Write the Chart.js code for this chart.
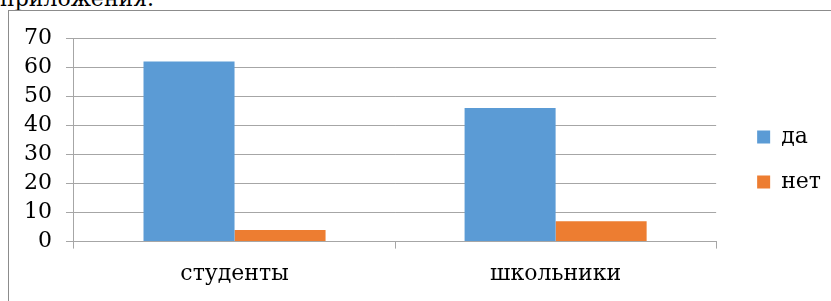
<!DOCTYPE html>
<html>
<head>
<meta charset="utf-8">
<script src="https://cdn.jsdelivr.net/npm/chart.js@4.4.0/dist/chart.umd.min.js"></script>
<style>
    body { margin: 0; background: #fff; overflow: hidden; width: 831px; height: 301px; position: relative; }
    #caption { position: absolute; left: 0px; top: -12px; font-size: 22px; font-family: "DejaVu Serif", serif; line-height: 22px; color: #000; }
    #frame { position: absolute; left: 8px; top: 10px; width: 840px; height: 320px; border: 1px solid #8c8c8c; }
    #myChart { position: absolute; left: 9px; top: 11px; }
</style>
</head>
<body>
<div id="caption">приложения.</div>
<div id="frame"></div>
<canvas id="myChart" width="822" height="290"></canvas>
<script>
    const categories = ['студенты', 'школьники'];
    const seriesNames = ['да', 'нет'];
    const yesValues = [62, 46];
    const noValues = [4, 7];
    const yTicks = [0, 10, 20, 30, 40, 50, 60, 70];

    const serif = {family: '"DejaVu Serif", serif', size: 22};
    const gridColor = '#a6a6a6';

    // nudge the legend to where it sits in the picture
    const legendShift = {
        id: 'legendShift',
        afterLayout: function (chart) {
            chart.legend.left += 18;
            chart.legend.right += 18;
            chart.legend.top -= 9;
            chart.legend.bottom -= 9;
        }
    };

    function draw() {
        const ctx = document.getElementById('myChart');
        let myChart = new Chart(ctx, {
            type: 'bar',
            data: {
                labels: categories,
                datasets: [
                    {label: seriesNames[0], data: yesValues, backgroundColor: '#5b9bd5'},
                    {label: seriesNames[1], data: noValues, backgroundColor: '#ed7d31'}
                ]
            },
            options: {
                responsive: false,
                devicePixelRatio: 1,
                animation: false,
                categoryPercentage: 0.567,
                barPercentage: 1.0,
                layout: {padding: {top: 27, left: 1, right: 18, bottom: 2}},
                scales: {
                    x: {
                        grid: {drawOnChartArea: false, color: gridColor, tickLength: 7, offset: true},
                        border: {color: gridColor},
                        ticks: {font: serif, color: '#000', padding: 12, autoSkip: false, maxRotation: 0}
                    },
                    y: {
                        min: yTicks[0],
                        max: yTicks[yTicks.length - 1],
                        afterBuildTicks: function (axis) {
                            axis.ticks = yTicks.map(function (v) { return {value: v}; });
                        },
                        grid: {color: gridColor, tickLength: 8},
                        border: {color: gridColor},
                        ticks: {font: serif, color: '#000', padding: 14, autoSkip: false}
                    }
                },
                plugins: {
                    legend: {
                        position: 'right',
                        labels: {
                            boxWidth: 13,
                            boxHeight: 13,
                            padding: 23,
                            color: '#000',
                            font: serif
                        }
                    },
                    tooltip: {enabled: false}
                }
            },
            plugins: [legendShift]
        });
    }

    document.fonts.load('22px "DejaVu Serif"').then(draw, draw);
</script>
</body>
</html>
